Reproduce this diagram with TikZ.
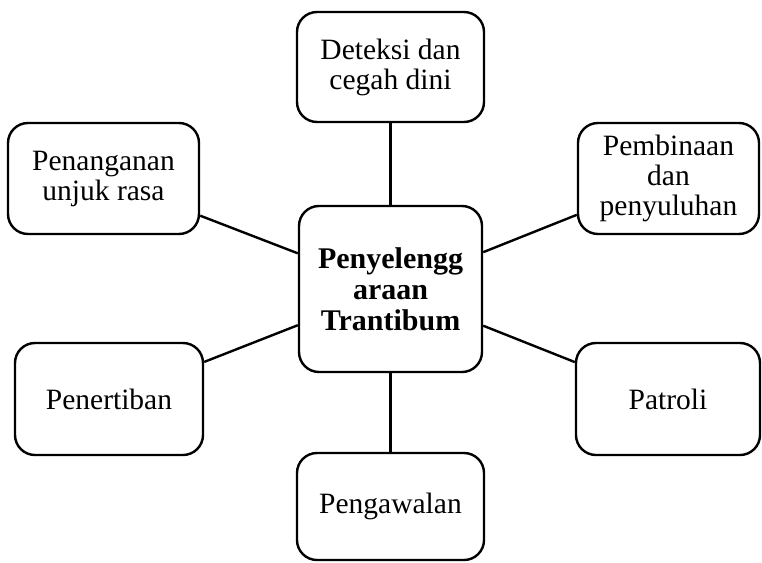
\documentclass[tikz,border=0pt]{standalone}
\usepackage{fontspec}
\setmainfont{Liberation Serif}
\begin{document}
\begin{tikzpicture}[x=1pt,y=-1pt,
  box/.style={draw=black,line width=2.4pt,rounded corners=20pt,fill=white,
    align=center,inner sep=0pt,font=\fontsize{29.5}{30}\selectfont},
  link/.style={draw=black,line width=2.4pt}]
\useasboundingbox (0,0) rectangle (762,562);
\node[box,minimum width=183pt,minimum height=166pt,font=\fontsize{30}{31}\selectfont\bfseries] (c) at (390.5,289) {Penyelengg\\araan\\Trantibum};
\node[box,minimum width=187pt,minimum height=110pt] (t) at (390.5,67) {Deteksi dan\\cegah dini};
\node[box,minimum width=191pt,minimum height=111pt] (lt) at (103.5,178.5) {Penanganan\\unjuk rasa};
\node[box,minimum width=181pt,minimum height=111pt] (rt) at (668.5,178.5) {Pembinaan\\dan\\penyuluhan};
\node[box,minimum width=188pt,minimum height=112pt] (lb) at (109,399) {Penertiban};
\node[box,minimum width=184pt,minimum height=112pt] (rb) at (668,399) {Patroli};
\node[box,minimum width=187pt,minimum height=107pt] (b) at (390.5,506.5) {Pengawalan};
\foreach \n in {t,lt,rt,lb,rb,b} {\draw[link] (c) -- (\n);}
\end{tikzpicture}
\end{document}
